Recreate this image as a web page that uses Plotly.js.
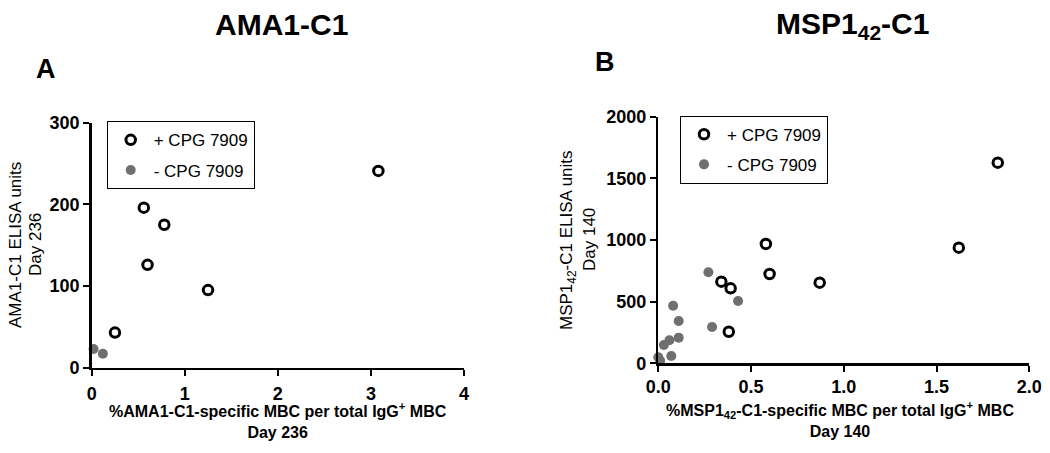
<!DOCTYPE html>
<html>
<head>
<meta charset="utf-8">
<script src="https://cdn.plot.ly/plotly-3.0.1.min.js"></script>
<style>html,body{margin:0;padding:0;background:#fff;}#chart{width:1050px;height:453px;}</style>
</head>
<body>
<div id="chart"></div>
<script>
// ---- Data ----
const seriesNames = ["+ CPG 7909", "- CPG 7909"];

// Panel A: AMA1-C1, Day 236
const ama1PlusX  = [0.25, 0.56, 0.60, 0.78, 1.25, 3.08];
const ama1PlusY  = [43, 196, 126, 175, 95, 241];
const ama1MinusX = [0.02, 0.12];
const ama1MinusY = [23, 17];

// Panel B: MSP1-42-C1, Day 140
const mspPlusX  = [0.34, 0.39, 0.38, 0.58, 0.60, 0.87, 1.62, 1.83];
const mspPlusY  = [662, 608, 256, 968, 724, 654, 938, 1627];
const mspMinusX = [0.27, 0.43, 0.29, 0.08, 0.11, 0.11, 0.06, 0.03, 0.07, 0.00, 0.01];
const mspMinusY = [738, 505, 294, 467, 343, 208, 187, 148, 59, 49, 20];

const ama1TickVals = [0, 1, 2, 3, 4];
const ama1TickText = ["0", "1", "2", "3", "4"];
const ama1YTickVals = [0, 100, 200, 300];
const mspTickVals = [0, 0.5, 1.0, 1.5, 2.0];
const mspTickText = ["0.0", "0.5", "1.0", "1.5", "2.0"];
const mspYTickVals = [0, 500, 1000, 1500, 2000];

const titleA = "AMA1-C1";
const titleB = "MSP1<sub>42</sub>-C1";
const yTitleA = ["AMA1-C1 ELISA units", "Day 236"];
const yTitleB = ["MSP1<sub>42</sub>-C1 ELISA units", "Day 140"];
const xTitleA = ["%AMA1-C1-specific MBC per total IgG<sup>+</sup> MBC", "Day 236"];
const xTitleB = ["%MSP1<sub>42</sub>-C1-specific MBC per total IgG<sup>+</sup> MBC", "Day 140"];

// ---- Styles ----
const W = 1050, H = 453;
const px = v => v / W;
const py = v => 1 - v / H;
const FONT = "Arial, 'Liberation Sans', sans-serif";
const GRAY = "#6f6f6f";

const openMarker = {symbol: "circle-open", size: 9.5, color: "#000", line: {width: 3, color: "#000"}};
const grayMarker = {symbol: "circle", size: 10, color: GRAY, line: {width: 0}};

const data = [
  {x: ama1MinusX, y: ama1MinusY, type: "scatter", mode: "markers", name: seriesNames[1],
   marker: grayMarker, xaxis: "x", yaxis: "y", legend: "legend", legendrank: 2, legendgroup: "m", cliponaxis: false},
  {x: ama1PlusX, y: ama1PlusY, type: "scatter", mode: "markers", name: seriesNames[0],
   marker: openMarker, xaxis: "x", yaxis: "y", legend: "legend", legendrank: 1, legendgroup: "p", cliponaxis: false},
  {x: mspMinusX, y: mspMinusY, type: "scatter", mode: "markers", name: seriesNames[1],
   marker: grayMarker, xaxis: "x2", yaxis: "y2", legend: "legend2", legendrank: 2, legendgroup: "m2", cliponaxis: false},
  {x: mspPlusX, y: mspPlusY, type: "scatter", mode: "markers", name: seriesNames[0],
   marker: openMarker, xaxis: "x2", yaxis: "y2", legend: "legend2", legendrank: 1, legendgroup: "p2", cliponaxis: false}
];

const tickFont = {family: FONT, size: 18, color: "#000", weight: "bold"};
const axisCommon = {
  showgrid: false, zeroline: false, showline: true, linecolor: "#000", linewidth: 2.5,
  ticks: "outside", ticklen: 6, tickwidth: 2, tickcolor: "#000", tickfont: tickFont,
  fixedrange: true
};

const legendCommon = {
  bgcolor: "#fff", bordercolor: "#000", borderwidth: 1,
  font: {family: FONT, size: 17, color: "#000"},
  xanchor: "left", yanchor: "top", tracegroupgap: 5, itemwidth: 36
};

function ann(text, x, y, size, bold, angle) {
  return {text: text, x: px(x), y: py(y), xref: "paper", yref: "paper", showarrow: false,
    textangle: angle || 0, align: "center", xanchor: "center", yanchor: "middle",
    font: {family: FONT, size: size, color: "#000", weight: bold ? "bold" : "normal"}};
}

const layout = {
  width: W, height: H,
  margin: {l: 0, r: 0, t: 0, b: 0},
  paper_bgcolor: "#fff", plot_bgcolor: "#fff",
  showlegend: true,
  xaxis: Object.assign({}, axisCommon, {domain: [px(91.7), px(464)], range: [0, 4],
    tickvals: ama1TickVals, ticktext: ama1TickText, anchor: "y", ticklabelstandoff: 2}),
  yaxis: Object.assign({}, axisCommon, {domain: [py(367.7), py(122.7)], range: [0, 300],
    tickvals: ama1YTickVals, anchor: "x"}),
  xaxis2: Object.assign({}, axisCommon, {domain: [px(658.3), px(1029.3)], range: [0, 2],
    tickvals: mspTickVals, ticktext: mspTickText, anchor: "y2"}),
  yaxis2: Object.assign({}, axisCommon, {domain: [py(363.3), py(116.7)], range: [0, 2000],
    tickvals: mspYTickVals, anchor: "x2"}),
  legend: Object.assign({}, legendCommon, {x: px(106.7), y: py(121.3)}),
  legend2: Object.assign({}, legendCommon, {x: px(680), y: py(115.7)}),
  annotations: [
    ann(titleA, 281, 24, 30, true),
    ann(titleB, 852, 26, 30, true),
    ann("A", 46, 69, 27, true),
    ann("B", 605, 62, 27, true),
    ann(yTitleA[0], 15, 245, 17, false, -90),
    ann(yTitleA[1], 35, 245, 17, false, -90),
    ann(yTitleB[0], 568, 240, 17, false, -90),
    ann(yTitleB[1], 589, 240, 17, false, -90),
    ann(xTitleA.join("<br>"), 278, 420, 16, true),
    ann(xTitleB.join("<br>"), 840, 419, 16, true)
  ]
};

Plotly.newPlot("chart", data, layout, {displayModeBar: false, staticPlot: true});
</script>
</body>
</html>
